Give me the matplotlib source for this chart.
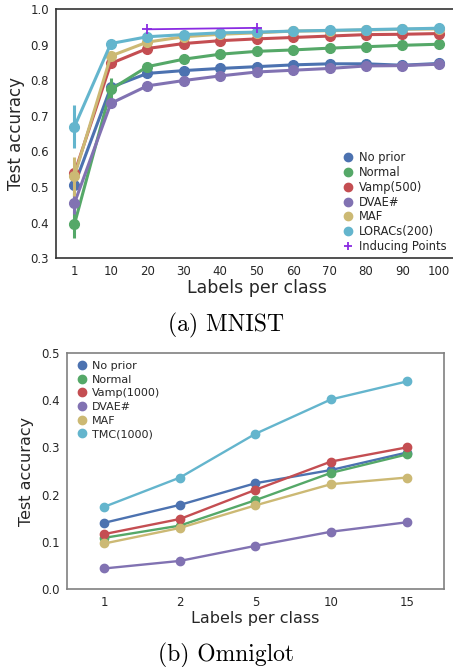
import matplotlib
matplotlib.use('Agg')
import matplotlib.pyplot as plt
from matplotlib.lines import Line2D
import numpy as np

# MNIST panel
mnist_labels = ['1', '10', '20', '30', '40', '50', '60', '70', '80', '90', '100']
mnist_names = ['No prior', 'Normal', 'Vamp(500)', 'DVAE#', 'MAF', 'LORACs(200)']
mnist_no_prior = [0.505, 0.780, 0.819, 0.827, 0.833, 0.838, 0.843, 0.846, 0.846, 0.842, 0.847]
mnist_normal = [0.395, 0.774, 0.838, 0.859, 0.873, 0.881, 0.885, 0.890, 0.894, 0.898, 0.901]
mnist_vamp = [0.538, 0.847, 0.889, 0.903, 0.911, 0.916, 0.920, 0.924, 0.928, 0.929, 0.931]
mnist_dvae = [0.454, 0.735, 0.784, 0.799, 0.812, 0.823, 0.828, 0.833, 0.840, 0.841, 0.845]
mnist_maf = [0.530, 0.868, 0.907, 0.922, 0.929, 0.933, 0.938, 0.939, 0.941, 0.943, 0.944]
mnist_loracs = [0.669, 0.903, 0.922, 0.928, 0.933, 0.935, 0.938, 0.940, 0.942, 0.944, 0.946]
# half-width of the error bars (0 where none is visible)
mnist_no_prior_err = [0.040, 0.020, 0.010, 0.004, 0.010, 0.008, 0.006, 0.004, 0.004, 0.003, 0.004]
mnist_normal_err = [0.038, 0.033, 0.008, 0.004, 0.004, 0.003, 0.003, 0.003, 0.003, 0.003, 0.003]
mnist_vamp_err = [0.012, 0.008, 0.004, 0.003, 0.003, 0.003, 0.002, 0.002, 0.002, 0.002, 0.002]
mnist_dvae_err = [0.030, 0.010, 0.004, 0.003, 0.003, 0.003, 0.003, 0.003, 0.003, 0.003, 0.003]
mnist_maf_err = [0.055, 0.012, 0.005, 0.003, 0.003, 0.003, 0.002, 0.002, 0.002, 0.002, 0.002]
mnist_loracs_err = [0.060, 0.005, 0.003, 0.002, 0.002, 0.002, 0.002, 0.002, 0.002, 0.002, 0.002]
inducing_labels = ['20', '50']
inducing_vals = [0.943, 0.947]

# Omniglot panel
omni_labels = ['1', '2', '5', '10', '15']
omni_names = ['No prior', 'Normal', 'Vamp(1000)', 'DVAE#', 'MAF', 'TMC(1000)']
omni_no_prior = [0.140, 0.178, 0.224, 0.252, 0.289]
omni_normal = [0.108, 0.134, 0.188, 0.246, 0.285]
omni_vamp = [0.116, 0.148, 0.210, 0.270, 0.300]
omni_dvae = [0.043, 0.059, 0.091, 0.121, 0.141]
omni_maf = [0.096, 0.129, 0.177, 0.222, 0.236]
omni_tmc = [0.174, 0.236, 0.329, 0.402, 0.440]

colors = ['#4C72B0', '#55A868', '#C44E52', '#8172B2', '#CCB974', '#64B5CD']
text_col = '#262626'

fig = plt.figure(figsize=(4.53, 6.67), dpi=100)

# ---- (a) MNIST ----
ax1 = fig.add_axes([0.124, 0.613, 0.885, 0.3735])
x1 = np.arange(len(mnist_labels))
series1 = [mnist_no_prior, mnist_normal, mnist_vamp, mnist_dvae, mnist_maf, mnist_loracs]
errs1 = [mnist_no_prior_err, mnist_normal_err, mnist_vamp_err, mnist_dvae_err, mnist_maf_err, mnist_loracs_err]
for vals, err, c in zip(series1, errs1, colors):
    vals = np.array(vals)
    err = np.array(err)
    ax1.vlines(x1, vals - err, vals + err, color=c, lw=2.2)
    ax1.plot(x1, vals, color=c, lw=2.2, marker='o', ms=7, mec=c)
xi = [mnist_labels.index(l) for l in inducing_labels]
ax1.plot(xi, inducing_vals, color='#8A2BE2', lw=1.3, marker='+', ms=7, mew=1.3)

ax1.set_xlim(-0.5, len(mnist_labels) - 0.5)
ax1.set_ylim(0.3, 1.0)
ax1.set_xticks(x1)
ax1.set_xticklabels(mnist_labels)
ax1.set_yticks(np.arange(0.3, 1.01, 0.1))
ax1.set_yticklabels(['%.1f' % v for v in np.arange(0.3, 1.01, 0.1)])
ax1.set_xlabel('Labels per class', fontsize=12.5, color=text_col, labelpad=1)
ax1.set_ylabel('Test accuracy', fontsize=12, color=text_col, labelpad=4)

handles1 = [Line2D([], [], ls='', marker='o', color=c, ms=6) for c in colors]
handles1.append(Line2D([], [], ls='', marker='+', color='#8A2BE2', ms=6, mew=1.3))
ax1.legend(handles1, mnist_names + ['Inducing Points'], loc='lower right',
           bbox_to_anchor=(1.0, -0.02), frameon=False, fontsize=8.3,
           handletextpad=0.25, labelspacing=0.15, handlelength=1.5, labelcolor=text_col)

# ---- (b) Omniglot ----
ax2 = fig.add_axes([0.147, 0.1174, 0.834, 0.353])
x2 = np.arange(len(omni_labels))
series2 = [omni_no_prior, omni_normal, omni_vamp, omni_dvae, omni_maf, omni_tmc]
for vals, c in zip(series2, colors):
    ax2.plot(x2, vals, color=c, lw=1.7, marker='o', ms=6, mec=c)

ax2.set_xlim(-0.5, len(omni_labels) - 0.5)
ax2.set_ylim(0.0, 0.5)
ax2.set_xticks(x2)
ax2.set_xticklabels(omni_labels)
ax2.set_yticks(np.arange(0.0, 0.51, 0.1))
ax2.set_yticklabels(['%.1f' % v for v in np.arange(0.0, 0.51, 0.1)])
ax2.set_xlabel('Labels per class', fontsize=11.5, color=text_col, labelpad=2)
ax2.set_ylabel('Test accuracy', fontsize=11.5, color=text_col, labelpad=5)

handles2 = [Line2D([], [], ls='', marker='o', color=c, ms=6) for c in colors]
ax2.legend(handles2, omni_names, loc='upper left', frameon=False, fontsize=8,
           handletextpad=0.25, labelspacing=0.33, handlelength=1.3, labelcolor=text_col,
           borderaxespad=0.3)

for ax, ec in [(ax1, '#333333'), (ax2, '#808080')]:
    for s in ax.spines.values():
        s.set_color(ec)
        s.set_linewidth(1.2)
    ax.tick_params(length=0, labelsize=8.5, colors=text_col, pad=5)

fig.text(0.5, 1 - 325 / 667, '(a) MNIST', ha='center', va='center',
         fontsize=17, family='cmr10')
fig.text(0.5, 1 - 655 / 667, '(b) Omniglot', ha='center', va='center',
         fontsize=17, family='cmr10')

fig.savefig('out.png', dpi=100)
